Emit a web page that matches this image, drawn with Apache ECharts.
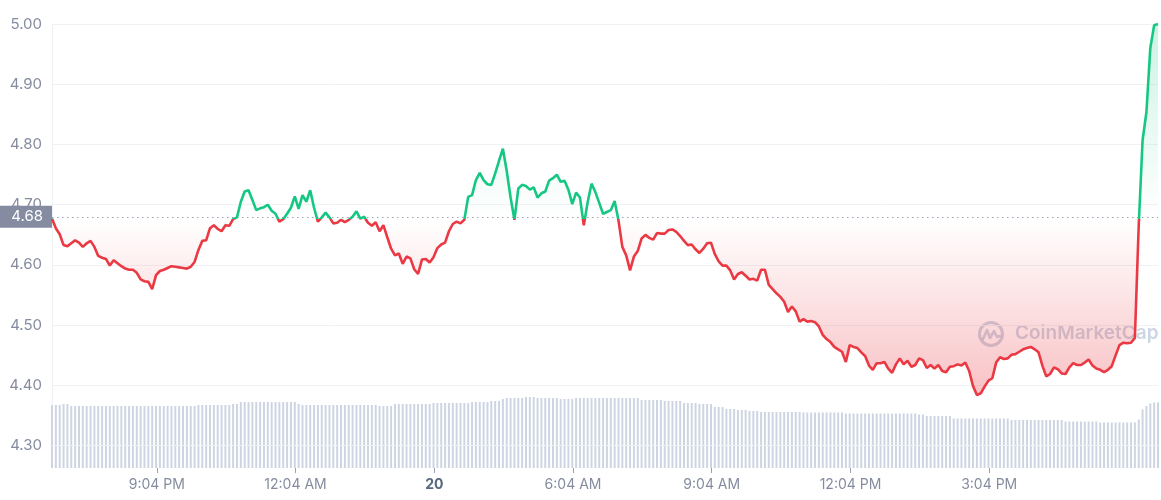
<!DOCTYPE html>
<html>
<head>
<meta charset="utf-8">
<script src="https://cdn.jsdelivr.net/npm/echarts@6/dist/echarts.min.js"></script>
<style>
html,body{margin:0;padding:0;background:#fff;}
#chart{width:1161px;height:500px;}
</style>
</head>
<body>
<div id="chart"></div>
<script>
// 5-minute price samples over 24h (USD)
const prices = [
4.677,4.661,4.651,4.633,4.631,4.636,4.641,4.637,4.630,4.636,
4.640,4.630,4.615,4.612,4.610,4.599,4.608,4.603,4.598,4.594,
4.592,4.592,4.587,4.576,4.573,4.572,4.560,4.583,4.590,4.592,
4.595,4.598,4.597,4.596,4.595,4.594,4.597,4.605,4.625,4.640,
4.641,4.661,4.666,4.660,4.656,4.666,4.665,4.676,4.679,4.705,
4.722,4.724,4.708,4.691,4.694,4.696,4.700,4.690,4.685,4.672,
4.676,4.685,4.695,4.714,4.693,4.716,4.705,4.724,4.695,4.672,
4.679,4.687,4.679,4.669,4.670,4.675,4.671,4.675,4.680,4.689,
4.677,4.680,4.670,4.665,4.671,4.656,4.666,4.646,4.627,4.616,
4.619,4.602,4.614,4.611,4.593,4.585,4.609,4.610,4.604,4.613,
4.628,4.634,4.637,4.656,4.668,4.672,4.669,4.675,4.713,4.716,
4.741,4.753,4.741,4.734,4.733,4.752,4.773,4.793,4.756,4.712,
4.675,4.727,4.733,4.731,4.725,4.729,4.712,4.719,4.722,4.740,
4.744,4.750,4.738,4.740,4.725,4.701,4.720,4.712,4.666,4.704,
4.735,4.721,4.703,4.685,4.688,4.691,4.706,4.674,4.630,4.616,
4.591,4.614,4.623,4.644,4.650,4.645,4.642,4.653,4.652,4.652,
4.658,4.659,4.655,4.648,4.640,4.633,4.634,4.626,4.620,4.627,
4.636,4.637,4.618,4.606,4.599,4.599,4.591,4.576,4.585,4.588,
4.582,4.576,4.577,4.574,4.592,4.592,4.567,4.560,4.553,4.547,
4.539,4.522,4.531,4.523,4.506,4.510,4.506,4.507,4.505,4.498,
4.484,4.477,4.472,4.464,4.460,4.456,4.439,4.467,4.464,4.462,
4.455,4.449,4.433,4.426,4.437,4.437,4.439,4.428,4.421,4.435,
4.445,4.435,4.441,4.431,4.434,4.445,4.442,4.429,4.434,4.428,
4.434,4.424,4.422,4.431,4.432,4.435,4.433,4.438,4.424,4.399,
4.384,4.387,4.398,4.408,4.412,4.438,4.447,4.444,4.445,4.451,
4.452,4.456,4.460,4.462,4.464,4.460,4.455,4.433,4.415,4.419,
4.430,4.427,4.420,4.419,4.430,4.437,4.434,4.434,4.438,4.443,
4.433,4.428,4.426,4.422,4.426,4.432,4.450,4.467,4.471,4.470,
4.471,4.479,4.666,4.807,4.854,4.960,4.998,5.000
];

// 24h rolling volume per 5-minute sample (relative units)
const volumes = [
63,63,63,64,64,
62,62,62,62,62,62,62,62,62,62,62,62,62,62,62,62,62,62,62,62,62,62,62,62,62,62,62,62,62,62,62,62,62,
63,63,63,63,63,63,63,63,63,
64,64,
66,66,66,66,66,66,66,66,66,66,66,66,66,66,66,
64,
63,63,63,63,63,63,63,63,63,63,63,63,63,63,63,63,63,63,63,63,
62,62,62,62,
64,64,64,64,64,64,64,64,64,64,
65,65,65,65,65,65,65,65,65,65,
66,66,66,66,66,
67,67,67,
69,
70,70,70,70,70,
71,71,71,
70,70,70,70,70,70,
69,69,69,69,
70,70,70,70,70,70,70,70,70,70,70,70,70,70,70,70,70,
68,68,68,68,68,68,
67,67,67,67,67,
65,65,65,65,
64,64,64,64,
61,61,61,
59,59,59,
58,58,58,
57,57,57,
56,56,56,56,56,56,56,56,56,56,56,
55.5,55.5,55.5,55.5,55.5,55.5,55.5,55.5,55.5,55.5,55.5,
54.5,54.5,54.5,54.5,54.5,54.5,54.5,54.5,54.5,54.5,54.5,54.5,54.5,54.5,54.5,54.5,54.5,54.5,54.5,
53.5,53.5,
52,52,52,52,52,52,52,
49.5,49.5,49.5,49.5,49.5,49.5,49.5,49.5,49.5,49.5,49.5,49.5,49.5,49.5,49.5,
48,48,48,48,48,48,48,48,48,48,48,48,48,48,
46.5,46.5,46.5,46.5,46.5,46.5,46.5,46.5,46.5,
45.5,45.5,45.5,45.5,45.5,45.5,45.5,45.5,45.5,45.5,
48.5,58.5,62,64.5,65.5,65.5
];

const stepMinutes = 5;
const tickMinutes = [136, 316, 496, 676, 856, 1036, 1216];
const tickLabels = ['9:04 PM', '12:04 AM', '20', '6:04 AM', '9:04 AM', '12:04 PM', '3:04 PM'];
const yTicks = [4.30, 4.40, 4.50, 4.60, 4.70, 4.80, 4.90, 5.00];
const yMin = 4.263, yMax = 5.00;

const basePrice = prices[0];
const GREEN = '#16c784', RED = '#ea3943';
const priceData = prices.map((p, i) => [i * stepMinutes, p]);
const volData = volumes.map((v, i) => [i * stepMinutes, v]);
const xMax = (prices.length - 1) * stepMinutes;

const chart = echarts.init(document.getElementById('chart'), null, {renderer: 'canvas'});
const labelColor = '#858ca0';
const FONT = 'Inter, "Noto Sans", sans-serif';
const gridLines = yTicks.map(v => ({yAxis: v, label: {show: false},
  lineStyle: {color: '#eff2f5', type: 'solid', width: 1}}));

const option = {
  animation: false,
  backgroundColor: '#ffffff',
  textStyle: {fontFamily: FONT},
  grid: [
    {left: 52, right: 3, top: 24, bottom: 32, containLabel: false},
    {left: 52, right: 3, top: 380, bottom: 32, containLabel: false}
  ],
  xAxis: [
    {type: 'value', gridIndex: 0, min: 0, max: xMax, show: false},
    {type: 'value', gridIndex: 1, min: 0, max: xMax,
      axisLine: {show: false},
      splitLine: {show: false},
      axisTick: {show: true, length: 5, lineStyle: {color: '#9aa1b1'}, customValues: tickMinutes},
      axisLabel: {
        customValues: tickMinutes,
        margin: 10, fontSize: 14, color: labelColor, fontFamily: FONT,
        formatter: function (v) {
          const k = tickMinutes.indexOf(Math.round(v));
          if (k < 0) return '';
          return tickLabels[k] === '20' ? '{b|20}' : '{a|' + tickLabels[k] + '}';
        },
        rich: {
          a: {fontSize: 14, color: labelColor, fontFamily: FONT},
          b: {fontSize: 14, color: '#58667e', fontWeight: 'bold', fontFamily: FONT}
        }
      }
    }
  ],
  yAxis: [
    {type: 'value', gridIndex: 0, min: yMin, max: yMax,
      axisLine: {show: true, lineStyle: {color: '#eff2f5'}},
      axisTick: {show: false, customValues: yTicks},
      splitLine: {show: false},
      axisLabel: {
        customValues: yTicks,
        margin: 10, fontSize: 15, color: labelColor, fontFamily: FONT,
        formatter: function (v) { return v.toFixed(2); }
      }
    },
    {type: 'value', gridIndex: 1, min: 0, max: 88, show: false}
  ],
  visualMap: {
    show: false, type: 'piecewise', seriesIndex: 0, dimension: 1,
    pieces: [
      {gt: 3.0, lte: basePrice, color: RED},
      {gt: basePrice, lte: 7.0, color: GREEN}
    ],
    outOfRange: {color: RED}
  },
  series: [
    {
      type: 'line', xAxisIndex: 0, yAxisIndex: 0,
      data: priceData, showSymbol: false, symbol: 'none', clip: false, z: 5,
      lineStyle: {width: 2.6},
      areaStyle: {
        origin: basePrice, opacity: 1,
        color: {
          type: 'linear', x: 0, y: 24, x2: 0, y2: 400, global: true,
          colorStops: [
            {offset: 0, color: 'rgba(22,199,132,0.22)'},
            {offset: 0.515, color: 'rgba(22,199,132,0.0)'},
            {offset: 0.52, color: 'rgba(234,57,67,0.0)'},
            {offset: 1, color: 'rgba(234,57,67,0.32)'}
          ]
        }
      },
      markLine: {
        silent: true, symbol: 'none', animation: false,
        lineStyle: {color: '#9aa1b1', type: [1.5, 3.5], width: 1},
        label: {
          show: true, position: 'start', distance: 0,
          formatter: function () { return basePrice.toFixed(2); },
          backgroundColor: '#858ca2', color: '#ffffff',
          fontSize: 15, fontFamily: FONT, padding: [4, 9, 3, 12], borderRadius: 0
        },
        data: [{yAxis: basePrice}]
      }
    },
    {
      type: 'line', xAxisIndex: 0, yAxisIndex: 0, data: [], z: 0,
      markLine: {silent: true, symbol: 'none', animation: false, data: gridLines}
    },
    {
      type: 'bar', xAxisIndex: 1, yAxisIndex: 1, data: volData,
      barWidth: 2, z: 1,
      itemStyle: {color: '#cdd5e3'}
    }
  ],
  graphic: [
    {
      type: 'group', left: 977, top: 320, silent: true, z: 10,
      children: [
        {type: 'circle', shape: {cx: 13, cy: 13, r: 11.5}, style: {fill: 'none', stroke: 'rgba(160,178,204,0.55)', lineWidth: 3}},
        {type: 'polyline', shape: {points: [[5, 18], [9, 9], [12, 17], [16, 10], [19, 16], [22, 15]]},
          style: {fill: 'none', stroke: 'rgba(160,178,204,0.55)', lineWidth: 2.6, lineJoin: 'round', lineCap: 'round'}},
        {type: 'text', x: 37, y: 3, style: {text: 'CoinMarketCap', fill: 'rgba(160,178,204,0.55)', font: '600 19px Inter, "Noto Sans", sans-serif'}}
      ]
    }
  ]
};
chart.setOption(option);
</script>
</body>
</html>
